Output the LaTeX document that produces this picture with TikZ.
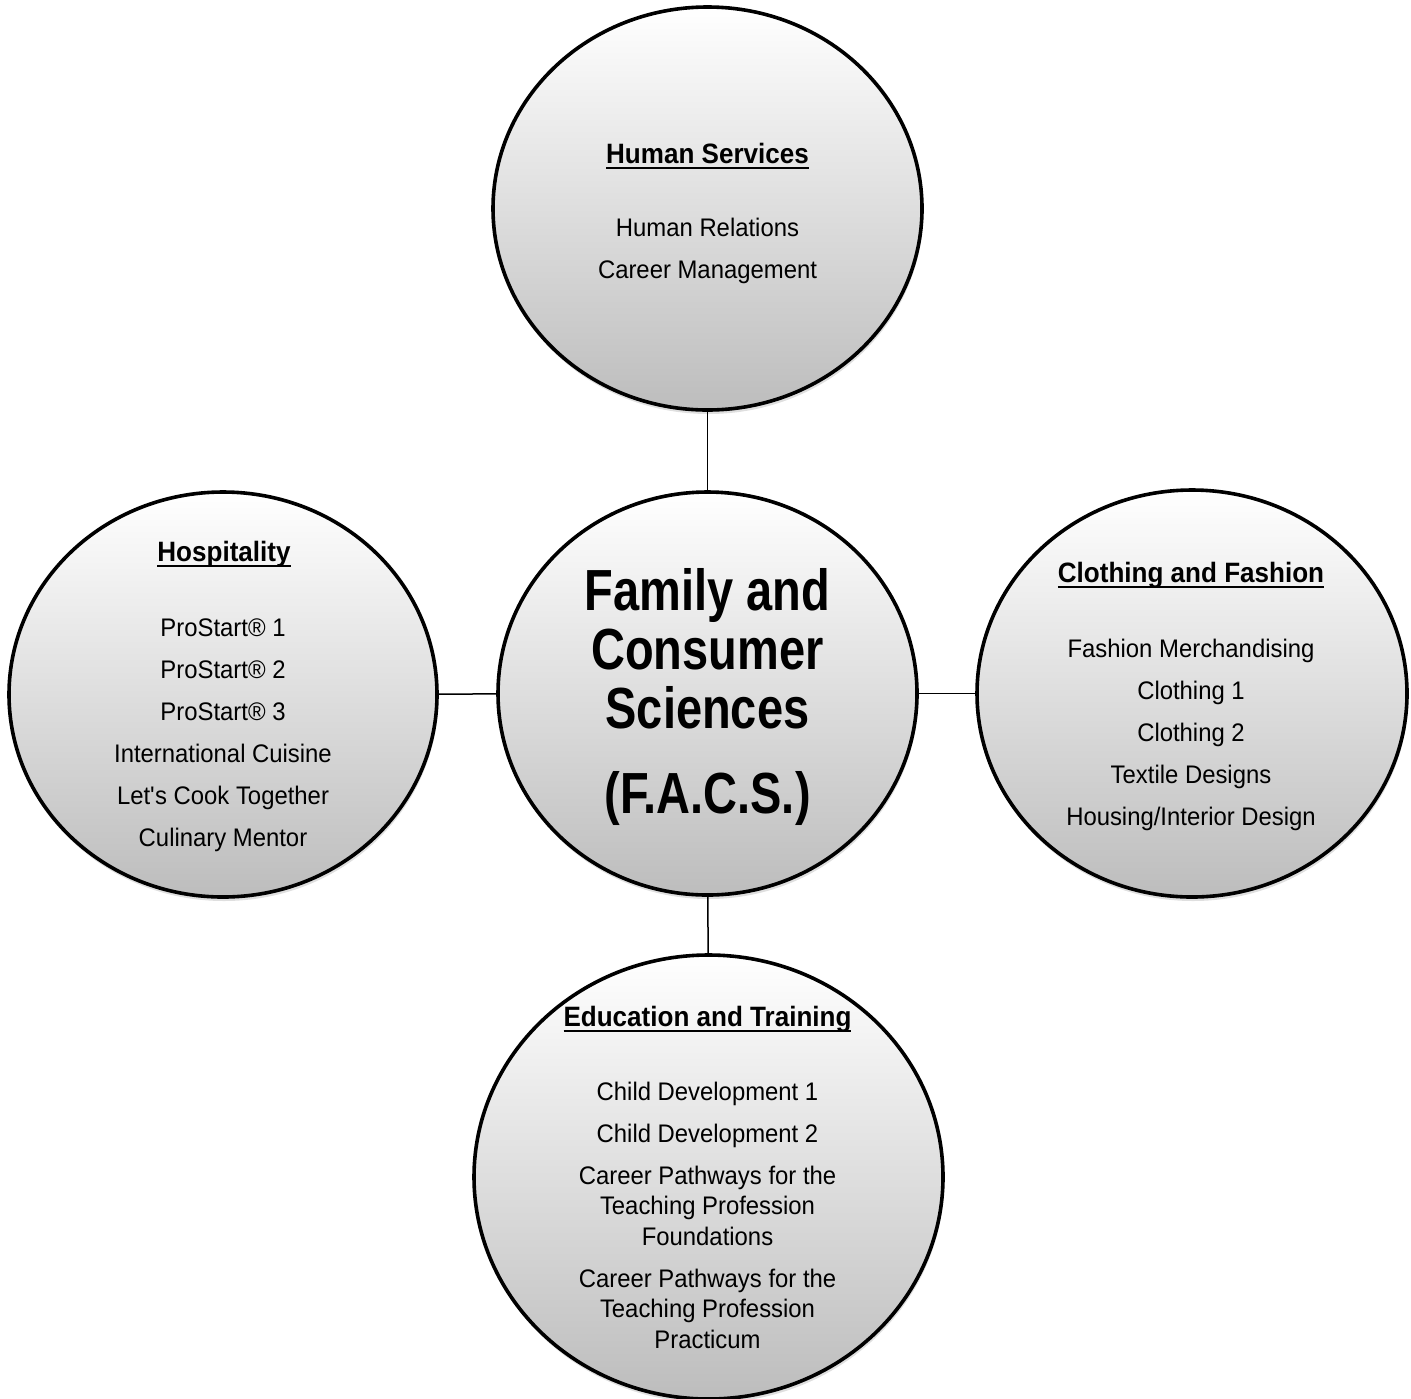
\documentclass[tikz,border=0pt]{standalone}
\usepackage{fontspec}
\setmainfont[FakeStretch=0.94]{Liberation Sans}
\newfontfamily\headfont[FakeStretch=0.93]{Liberation Sans}
\newfontfamily\facsfont[FakeStretch=0.81]{Liberation Sans}
\newcommand{\ulhead}[1]{\vtop{\hbox{\raisebox{0pt}[\height][0pt]{#1}}\kern1.8pt\hrule height 1pt}}
\usetikzlibrary{positioning}
\usetikzlibrary{shapes.geometric}
\usetikzlibrary{shadows}

\begin{document}
\begin{tikzpicture}[
    x=0.5pt, y=-0.5pt,
    bubble/.style={ellipse, draw=black, line width=1.8pt, inner sep=0pt,
        top color=white, bottom color=gray!52,
        drop shadow={opacity=0.25, shadow xshift=0.5pt, shadow yshift=-2pt}},
    head/.style={align=center, inner sep=0pt, font=\headfont\fontsize{14}{16}\selectfont\bfseries},
    items/.style={align=center, inner sep=0pt, font=\fontsize{12.7}{21}\selectfont},
    link/.style={line width=0.75pt},
]
    \useasboundingbox (0,0) rectangle (1411,1398);
    \clip (0,0) rectangle (1411,1398);

    \node[bubble, minimum width=214.5pt, minimum height=201.5pt] (HS) at (707.5,208.5) {};
    \node[bubble, minimum width=214pt, minimum height=202.5pt] (HO) at (223,694.5) {};
    \node[bubble, minimum width=209.5pt, minimum height=201.5pt] (FC) at (707.5,693.5) {};
    \node[bubble, minimum width=215pt, minimum height=203.5pt] (CF) at (1192,693.5) {};
    \node[bubble, minimum width=234.5pt, minimum height=222pt] (ET) at (708.5,1177) {};

    \draw[link] (HS) -- (FC);
    \draw[link] (HO) -- (FC);
    \draw[link] (FC) -- (CF);
    \draw[link] (FC) -- (ET);

    % centre (base = last line)
    \node[align=center, inner sep=0pt, anchor=base, font=\facsfont\fontsize{29}{29.5}\selectfont\bfseries] (FCt) at (707.5,813)
        {Family and\\Consumer\\Sciences\\[13pt](F.A.C.S.)};

    % headings
    \node[head, anchor=base] (HSh) at (707.5,163) {\ulhead{Human Services}};
    \node[head, anchor=base] (HOh) at (224,561) {\ulhead{Hospitality}};
    \node[head, anchor=base] (CFh) at (1191,582) {\ulhead{Clothing and Fashion}};
    \node[head, anchor=base] (ETh) at (707.5,1026) {\ulhead{Education and Training}};

    % course lists
    \node[items, anchor=base] (HSl) at (707.5,278) {Human Relations\\Career Management};
    \node[items, anchor=base] (HOl) at (223,846)
        {ProStart® 1\\ProStart® 2\\ProStart® 3\\International Cuisine\\Let\textquotesingle s Cook Together\\Culinary Mentor};
    \node[items, anchor=base] (CFl) at (1191,825)
        {Fashion Merchandising\\Clothing 1\\Clothing 2\\Textile Designs\\Housing/Interior Design};
    \node[items, anchor=base, font=\fontsize{12.7}{15.25}\selectfont] (ETl) at (707.5,1348)
        {Child Development 1\\[5.75pt]Child Development 2\\[5.75pt]Career Pathways for the\\Teaching Profession\\Foundations\\[5.75pt]Career Pathways for the\\Teaching Profession\\Practicum};

\end{tikzpicture}
\end{document}
